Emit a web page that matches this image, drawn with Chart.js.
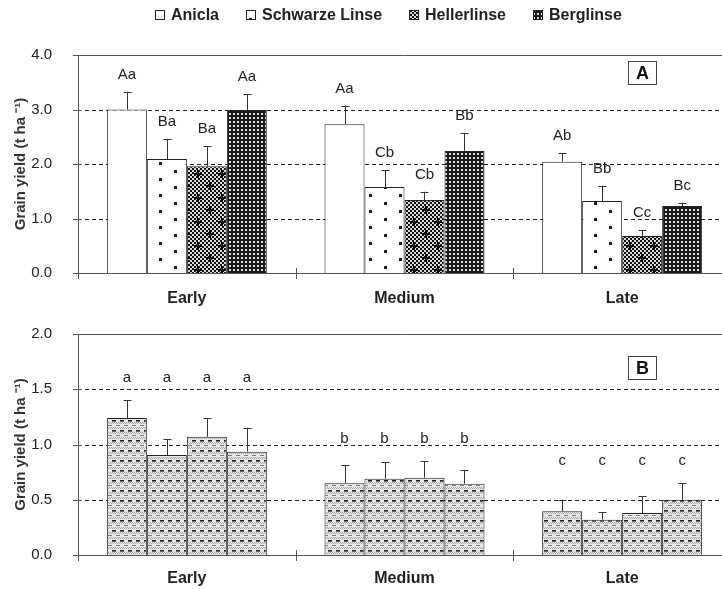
<!DOCTYPE html>
<html>
<head>
<meta charset="utf-8">
<script src="https://cdn.jsdelivr.net/npm/chart.js@4.4.1/dist/chart.umd.min.js"></script>
<style>
  html, body { margin: 0; padding: 0; background: #fff; overflow: hidden; width: 722px; height: 589px; }
  .wrap { position: absolute; left: 0; }
  #wrapA { top: 0; }
  #wrapB { top: 300px; }
</style>
</head>
<body>
<div class="wrap" id="wrapA"><canvas id="chartA" width="740" height="310"></canvas></div>
<div class="wrap" id="wrapB"><canvas id="chartB" width="740" height="289"></canvas></div>
<script>
const PERIODS = ['Early', 'Medium', 'Late'];
const CULTIVARS = ['Anicla', 'Schwarze Linse', 'Hellerlinse', 'Berglinse'];

// panel A - grain yield (t/ha) and upper error
const aniclaA = [3.00, 2.73, 2.04];
const schwarzeA = [2.09, 1.58, 1.32];
const hellerA = [1.96, 1.34, 0.68];
const bergA = [2.99, 2.24, 1.23];
const aniclaErrA = [0.32, 0.34, 0.16];
const schwarzeErrA = [0.37, 0.31, 0.28];
const hellerErrA = [0.37, 0.15, 0.11];
const bergErrA = [0.29, 0.33, 0.06];
const lettersA = [
  ['Aa', 'Aa', 'Ab'],
  ['Ba', 'Cb', 'Bb'],
  ['Ba', 'Cb', 'Cc'],
  ['Aa', 'Bb', 'Bc']
];

// panel B
const aniclaB = [1.24, 0.65, 0.395];
const schwarzeB = [0.905, 0.69, 0.32];
const hellerB = [1.07, 0.70, 0.38];
const bergB = [0.935, 0.645, 0.50];
const aniclaErrB = [0.16, 0.16, 0.105];
const schwarzeErrB = [0.145, 0.15, 0.065];
const hellerErrB = [0.17, 0.15, 0.15];
const bergErrB = [0.215, 0.125, 0.15];
const lettersB = ['a', 'b', 'c'];

const Y_TICKS_A = {max: 4, step: 1};
const Y_TICKS_B = {max: 2, step: 0.5};

const FONT = '"Liberation Sans", Arial, sans-serif';

// ---- fill patterns ----
function tile(w, h, paint) {
  const c = document.createElement('canvas');
  c.width = w; c.height = h;
  const g = c.getContext('2d');
  paint(g);
  return g.createPattern(c, 'repeat');
}

const patWhite = '#ffffff';
const patDots = tile(30, 16, g => {
  g.fillStyle = '#fff'; g.fillRect(0, 0, 30, 16);
  g.fillStyle = '#1a1a1a';
  g.fillRect(9, 2, 3, 3);
  g.fillRect(24, 10, 3, 3);
});
const patCheckPlus = tile(24, 24, g => {
  g.fillStyle = '#dadada'; g.fillRect(0, 0, 24, 24);
  g.fillStyle = '#111';
  for (let i = 0; i < 12; i++) {
    for (let j = 0; j < 12; j++) {
      if ((i + j) % 2 === 0) g.fillRect(i * 2, j * 2, 2, 2);
    }
  }
  g.fillStyle = '#000';
  [[6, 6], [18, 18]].forEach(p => {
    g.fillRect(p[0] - 4, p[1] - 1, 8, 2);
    g.fillRect(p[0] - 1, p[1] - 4, 2, 8);
  });
});
const patDense = tile(4, 4, g => {
  g.fillStyle = '#1a1a1a'; g.fillRect(0, 0, 4, 4);
  g.fillStyle = '#dcdcdc'; g.fillRect(1, 1, 2, 2);
});
const patBrick = tile(8, 10, g => {
  g.fillStyle = '#e6e6e6'; g.fillRect(0, 0, 8, 10);
  g.fillStyle = '#a8a8a8';
  [2, 3, 7, 8].forEach(y => {
    for (let x = (y % 2); x < 8; x += 2) g.fillRect(x, y, 1, 1);
  });
  g.fillStyle = '#222';
  g.fillRect(0, 0, 4, 1);
  g.fillStyle = '#666';
  g.fillRect(0, 1, 4, 1);
  g.fillStyle = '#7a7a7a';
  g.fillRect(4, 5, 4, 1);
});

// ---- plugins ----
const framePlugin = {
  id: 'frame',
  beforeDatasetsDraw(chart) {
    const {ctx, chartArea: a, scales: {x, y}} = chart;
    ctx.save();
    ctx.lineWidth = 1;
    y.ticks.forEach(t => {
      const py = Math.round(y.getPixelForValue(t.value)) + 0.5;
      if (t.value === y.max) {
        ctx.setLineDash([]);
        ctx.strokeStyle = '#555';
        ctx.beginPath(); ctx.moveTo(a.left, py); ctx.lineTo(a.right, py); ctx.stroke();
      } else if (t.value > y.min) {
        ctx.setLineDash([4, 3]);
        ctx.strokeStyle = '#222';
        ctx.beginPath(); ctx.moveTo(a.left, py); ctx.lineTo(a.right, py); ctx.stroke();
      }
      ctx.setLineDash([]);
      ctx.strokeStyle = '#555';
      ctx.beginPath(); ctx.moveTo(a.left - 5, py); ctx.lineTo(a.left + 4, py); ctx.stroke();
    });
    const n = x.ticks.length;
    const w = (x.right - x.left) / n;
    ctx.strokeStyle = '#555';
    for (let k = 0; k <= n; k++) {
      const px = Math.round(x.left + k * w) + 0.5;
      ctx.beginPath(); ctx.moveTo(px, a.bottom - 5); ctx.lineTo(px, a.bottom + 6); ctx.stroke();
    }
    ctx.restore();
  }
};

const errPlugin = {
  id: 'errbars',
  afterDatasetsDraw(chart, args, opts) {
    const {ctx, scales: {y}} = chart;
    const sets = chart.data.datasets;
    ctx.save();
    ctx.strokeStyle = '#333';
    ctx.lineWidth = 1;
    ctx.fillStyle = '#222';
    ctx.font = '15px ' + FONT;
    ctx.textAlign = 'center';
    ctx.textBaseline = 'middle';
    const groupTop = [];
    sets.forEach((ds, di) => {
      chart.getDatasetMeta(di).data.forEach((bar, i) => {
        const top = y.getPixelForValue(ds.data[i] + ds.errUp[i]);
        const px = Math.round(bar.x) + 0.5;
        ctx.beginPath();
        ctx.moveTo(px, bar.y); ctx.lineTo(px, top);
        ctx.moveTo(px - 4, Math.round(top) + 0.5); ctx.lineTo(px + 4, Math.round(top) + 0.5);
        ctx.stroke();
        groupTop[i] = Math.min(groupTop[i] === undefined ? Infinity : groupTop[i], top);
        if (opts.mode === 'bar') ctx.fillText(ds.letters[i], bar.x, top - 17);
      });
    });
    if (opts.mode === 'group') {
      sets.forEach((ds, di) => {
        chart.getDatasetMeta(di).data.forEach((bar, i) => {
          ctx.fillText(ds.letters[i], bar.x, groupTop[i] - 22);
        });
      });
    }
    ctx.restore();
  }
};

const tagPlugin = {
  id: 'tag',
  afterDraw(chart, args, opts) {
    const {ctx, chartArea: a} = chart;
    const bx = Math.round(a.right - opts.fromRight) + 0.5;
    const by = Math.round(a.top + opts.fromTop) + 0.5;
    ctx.save();
    ctx.fillStyle = '#fff';
    ctx.fillRect(bx, by, 28, 23);
    ctx.strokeStyle = '#444';
    ctx.lineWidth = 1;
    ctx.strokeRect(bx, by, 28, 23);
    ctx.fillStyle = '#111';
    ctx.font = 'bold 18px ' + FONT;
    ctx.textAlign = 'center';
    ctx.textBaseline = 'middle';
    ctx.fillText(opts.text, bx + 14, by + 12.5);
    ctx.restore();
  }
};

const legendRowPlugin = {
  id: 'legendRow',
  afterDraw(chart, args, opts) {
    if (!opts.show) return;
    const ctx = chart.ctx;
    let x = 155;
    const cy = 15;
    ctx.save();
    ctx.font = 'bold 16px ' + FONT;
    ctx.textBaseline = 'middle';
    ctx.textAlign = 'left';
    chart.data.datasets.forEach(ds => {
      ctx.fillStyle = ds.backgroundColor;
      ctx.fillRect(x, cy - 5, 10, 10);
      ctx.strokeStyle = '#222';
      ctx.lineWidth = 1;
      ctx.strokeRect(x + 0.5, cy - 4.5, 9, 9);
      ctx.fillStyle = '#222';
      ctx.fillText(ds.label, x + 16, cy + 1);
      x += 16 + ctx.measureText(ds.label).width + 27;
    });
    ctx.restore();
  }
};

function makeDatasets(values, errs, letters, fills) {
  return CULTIVARS.map((name, i) => ({
    label: name,
    data: values[i],
    errUp: errs[i],
    letters: letters[i],
    backgroundColor: fills[i],
    borderColor: '#222',
    borderWidth: 1,
    categoryPercentage: 0.735,
    barPercentage: 1.0
  }));
}

function makeChart(id, datasets, yt, opts) {
  return new Chart(document.getElementById(id), {
    type: 'bar',
    data: {labels: PERIODS, datasets: datasets},
    options: {
      responsive: false,
      animation: false,
      devicePixelRatio: 1,
      layout: {padding: {top: opts.padTop, left: 12, right: 9, bottom: 0}},
      plugins: {
        legend: {display: false},
        tooltip: {enabled: false},
        errbars: {mode: opts.mode},
        tag: {text: opts.tag, fromRight: 103, fromTop: opts.tagTop},
        legendRow: {show: opts.legend}
      },
      scales: {
        x: {
          grid: {display: false},
          border: {display: true, color: '#555', width: 1},
          ticks: {
            color: '#222',
            padding: opts.xPad,
            font: {family: FONT, size: 16, weight: 'bold'}
          },
          afterFit(scale) { scale.height = opts.xHeight; }
        },
        y: {
          min: 0,
          max: yt.max,
          grid: {display: false},
          border: {display: true, color: '#555', width: 1},
          ticks: {
            stepSize: yt.step,
            color: '#222',
            padding: 18,
            font: {family: FONT, size: 15},
            callback: v => Number(v).toFixed(1)
          },
          title: {
            display: true,
            text: 'Grain yield (t ha \u207B\u00B9)',
            color: '#333',
            padding: {top: 0, bottom: 0},
            font: {family: FONT, size: 15, weight: 'bold'}
          },
          afterFit(scale) { scale.width = 66; }
        }
      }
    },
    plugins: [framePlugin, errPlugin, tagPlugin, legendRowPlugin]
  });
}

makeChart('chartA',
  makeDatasets(
    [aniclaA, schwarzeA, hellerA, bergA],
    [aniclaErrA, schwarzeErrA, hellerErrA, bergErrA],
    lettersA,
    [patWhite, patDots, patCheckPlus, patDense]),
  Y_TICKS_A,
  {padTop: 55, xHeight: 37, xPad: 8, mode: 'bar', tag: 'A', tagTop: 6, legend: true});

makeChart('chartB',
  makeDatasets(
    [aniclaB, schwarzeB, hellerB, bergB],
    [aniclaErrB, schwarzeErrB, hellerErrB, bergErrB],
    CULTIVARS.map(() => lettersB),
    [patBrick, patBrick, patBrick, patBrick]),
  Y_TICKS_B,
  {padTop: 34, xHeight: 34, xPad: 6, mode: 'group', tag: 'B', tagTop: 22, legend: false});
</script>
</body>
</html>
